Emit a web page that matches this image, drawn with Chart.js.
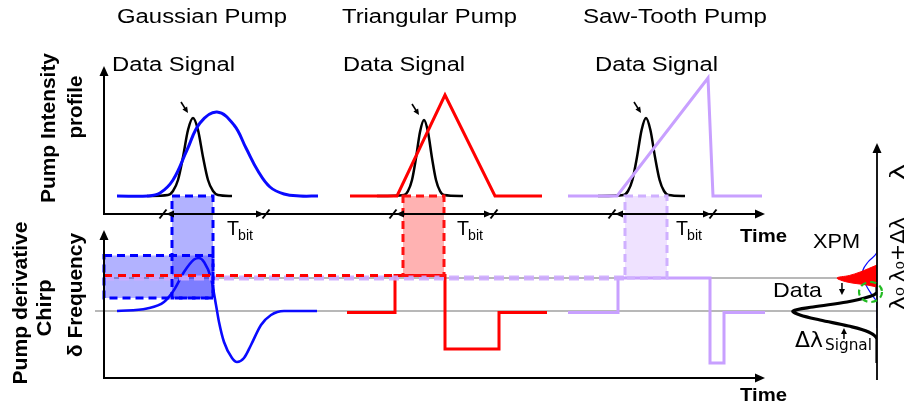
<!DOCTYPE html>
<html>
<head>
<meta charset="utf-8">
<title>Pump shapes, derivative chirp and XPM</title>
<script src="https://cdn.jsdelivr.net/npm/chart.js@4.4.1/dist/chart.umd.min.js"></script>
<style>
html,body{margin:0;padding:0;background:#ffffff;overflow:hidden;}
#c{display:block;}
</style>
</head>
<body>
<canvas id="c" width="904" height="407"></canvas>
<script>
// ================= DATA =================
// time in arbitrary units, intensity and chirp normalised
const pumpTitles = ['Gaussian Pump', 'Triangular Pump', 'Saw-Tooth Pump'];
const signalTitle = 'Data Signal';

const gaussPumpTime = [3.25, 11, 14, 17.25, 20.75, 24, 28.25, 32.5, 35.5, 38.5, 41.5, 45, 49, 53.5];
const gaussPumpIntensity = [0, 0, 0.03, 0.16, 0.46, 0.73, 0.84, 0.71, 0.48, 0.25, 0.09, 0.02, 0, 0];
const triPumpTime = [61.5, 73.25, 85.25, 97.75, 109.5];
const triPumpIntensity = [0, 0, 1.01, 0, 0];
const sawPumpTime = [116, 128.25, 151, 152.25, 164.5];
const sawPumpIntensity = [0, 0, 1.18, 0, 0];

const signal1Time = [10.75, 16, 17.25, 18.5, 19.75, 21, 22.25, 23.5, 24.75, 26, 27.25, 28.5, 32];
const signal1Intensity = [0, 0.01, 0.05, 0.16, 0.39, 0.66, 0.78, 0.66, 0.39, 0.16, 0.05, 0.01, 0];
const signal2Time = [68.25, 75, 76, 77, 78, 79, 80, 81, 82, 83, 84, 85, 89.75];
const signal2Intensity = [0, 0.01, 0.05, 0.16, 0.38, 0.64, 0.76, 0.64, 0.38, 0.16, 0.05, 0.01, 0];
const signal3Time = [123.5, 129.9, 131, 132.1, 133.25, 134.4, 135.5, 136.6, 137.75, 138.9, 140, 141.1, 145.25];
const signal3Intensity = [0, 0.01, 0.05, 0.16, 0.39, 0.66, 0.78, 0.66, 0.39, 0.16, 0.05, 0.01, 0];

const gaussChirpTime = [3.25, 10.75, 15, 17.5, 20, 22.5, 23.75, 25, 26.75, 28, 28.75, 30, 32, 33.25, 35, 36.75, 39.25, 41.75, 45, 53.25];
const gaussChirp = [0, 0.05, 0.18, 0.42, 0.78, 1.03, 1.06, 0.98, 0.66, 0.12, -0.22, -0.62, -0.94, -1.02, -0.94, -0.68, -0.28, -0.08, 0, 0];
const triChirpTime = [60.75, 72.75, 72.75, 85.25, 85.25, 98.75, 98.75, 110.75];
const triChirp = [-0.03, -0.03, 0.71, 0.71, -0.76, -0.76, -0.03, -0.03];
const sawChirpTime = [116, 128.5, 128.5, 151.5, 151.5, 155, 155, 165.25];
const sawChirp = [-0.03, -0.03, 0.66, 0.66, -1.04, -1.04, -0.03, -0.03];

// bit slot / chirp seen by the data pulse
const windowStart = [17, 74.75, 130.25];
const windowEnd = [27.25, 85, 140.75];
const windowChirp = [0.26, 0.71, 0.66];
const gaussChirpRange = [0.26, 1.11];
const bitStart = [14.75, 72.25, 127];
const bitEnd = [40.25, 97.25, 152];

// spectrum: wavelength shift (same units as chirp) and amplitude
const signalSpecShift = [0.88, 0.38, 0.28, 0.18, 0.08, 0, -0.08, -0.18, -0.3, -0.42, -0.56, -1.04];
const signalSpecAmp   = [0, 0, 0.107, 0.357, 0.762, 1, 0.917, 0.679, 0.34, 0.1, 0, 0];
const xpmSpecShift = [0.92, 0.78, 0.71, 0.66, 0.58, 0.52, 0.48];
const xpmSpecAmp   = [0, 0.2, 0.33, 0.476, 0.357, 0.119, 0];
const pumpSpecShift = [1.68, 1.18, 0.98, 0.82, 0.66, 0.48, 0.32, 0.16, -0.34];
const pumpSpecAmp   = [0, 0, 0.107, 0.167, 0.167, 0.119, 0.06, 0, 0];
const overlapMark = [0.077, 0.38];           // amplitude, shift
const lambdaLabels = ['λ₀', 'λ₀+Δλ', 'λ'];
const lambdaShifts = [0, 0.66];

// ================= STYLE =================
const FONT = "'Liberation Sans', Arial, sans-serif";
const BLUE = '#0a0aff', RED = '#ff0000', PURPLE = '#c8a0ff';
const windowFill = ['rgba(0,0,255,0.3)', 'rgba(255,0,0,0.3)', 'rgba(180,125,255,0.22)'];
const windowEdge = ['#0000ff', '#ff1010', '#cfb0ff'];

const pts = (xs, ys) => xs.map((v, i) => ({x: v, y: ys[i]}));
const specPts = (amp, shift) => amp.map((v, i) => ({x: v, y: shift[i]}));

function tLine(label, t, v, color, width, yAxis, smooth) {
  return {label, data: pts(t, v), borderColor: color, borderWidth: width,
    xAxisID: 'x', yAxisID: yAxis, pointRadius: 0, fill: false,
    tension: typeof smooth === 'number' ? smooth : 0,
    cubicInterpolationMode: smooth === 'monotone' ? 'monotone' : 'default'};
}
function sLine(label, amp, shift, color, width, fill) {
  return {label, data: specPts(amp, shift), borderColor: color, borderWidth: width,
    backgroundColor: color, indexAxis: 'y', xAxisID: 'xs', yAxisID: 'yC',
    pointRadius: 0, fill: fill ? 'origin' : false, tension: 0.35};
}

const datasets = [
  tLine(pumpTitles[0], gaussPumpTime, gaussPumpIntensity, BLUE, 3, 'yI', 0.4),
  tLine(pumpTitles[1], triPumpTime, triPumpIntensity, RED, 3, 'yI', 0),
  tLine(pumpTitles[2], sawPumpTime, sawPumpIntensity, PURPLE, 3, 'yI', 0),
  tLine(signalTitle + ' 1', signal1Time, signal1Intensity, '#000', 2.5, 'yI', 'monotone'),
  tLine(signalTitle + ' 2', signal2Time, signal2Intensity, '#000', 2.5, 'yI', 'monotone'),
  tLine(signalTitle + ' 3', signal3Time, signal3Intensity, '#000', 2.5, 'yI', 'monotone'),
  tLine('Gaussian chirp', gaussChirpTime, gaussChirp, BLUE, 2.6, 'yC', 'monotone'),
  tLine('Triangular chirp', triChirpTime, triChirp, RED, 3, 'yC', 0),
  tLine('Saw-tooth chirp', sawChirpTime, sawChirp, PURPLE, 3, 'yC', 0),
  sLine('XPM spectrum', xpmSpecAmp, xpmSpecShift, RED, 1, true),
  sLine('Signal spectrum', signalSpecAmp, signalSpecShift, '#000', 3.2, false),
  sLine('Pump spectrum', pumpSpecAmp, pumpSpecShift, BLUE, 1.2, false)
];

// ================= DRAW HELPERS =================
function seg(ctx, x0, y0, x1, y1, color, w, dash) {
  ctx.save(); ctx.strokeStyle = color; ctx.lineWidth = w; ctx.setLineDash(dash || []);
  ctx.beginPath(); ctx.moveTo(x0, y0); ctx.lineTo(x1, y1); ctx.stroke(); ctx.restore();
}
function head(ctx, x0, y0, x1, y1, len, half, color) {
  const a = Math.atan2(y1 - y0, x1 - x0);
  ctx.save(); ctx.fillStyle = color || '#000';
  ctx.beginPath(); ctx.moveTo(x1, y1);
  ctx.lineTo(x1 - len * Math.cos(a) + half * Math.sin(a), y1 - len * Math.sin(a) - half * Math.cos(a));
  ctx.lineTo(x1 - len * Math.cos(a) - half * Math.sin(a), y1 - len * Math.sin(a) + half * Math.cos(a));
  ctx.closePath(); ctx.fill(); ctx.restore();
}
function arrow(ctx, x0, y0, x1, y1, w, len, half) {
  const a = Math.atan2(y1 - y0, x1 - x0);
  seg(ctx, x0, y0, x1 - (len * 0.6) * Math.cos(a), y1 - (len * 0.6) * Math.sin(a), '#000', w);
  head(ctx, x0, y0, x1, y1, len, half);
}
function txt(ctx, s, x, y, font, w, rot, center) {
  ctx.save();
  ctx.font = font; ctx.fillStyle = '#000';
  ctx.textBaseline = 'alphabetic'; ctx.textAlign = 'left';
  const m = ctx.measureText(s).width;
  ctx.translate(x, y);
  if (rot) ctx.rotate(-Math.PI / 2);
  ctx.scale(w ? w / m : 1, 1);
  ctx.fillText(s, center ? -m / 2 : 0, 0);
  ctx.restore();
}

const diagram = {
  id: 'diagram',
  beforeDatasetsDraw(chart) {
    const {ctx, scales: {x, xs, yI, yC}} = chart;
    const right = xs.getPixelForValue(0);
    // reference lines (λ0 and λ0+Δλ)
    seg(ctx, x.getPixelForValue(-2.25), yC.getPixelForValue(0), right, yC.getPixelForValue(0), '#a0a0a0', 1.6);
    seg(ctx, x.getPixelForValue(0), yC.getPixelForValue(lambdaShifts[1]), right, yC.getPixelForValue(lambdaShifts[1]), '#a0a0a0', 1.4);
    // window fills
    ctx.save();
    windowStart.forEach((ws, i) => {
      const x0 = x.getPixelForValue(ws), x1 = x.getPixelForValue(windowEnd[i]);
      const y0 = yI.getPixelForValue(0), y1 = yC.getPixelForValue(windowChirp[i]);
      ctx.fillStyle = windowFill[i];
      ctx.fillRect(x0, y0, x1 - x0, y1 - y0);
    });
    const gx0 = x.getPixelForValue(0), gx1 = x.getPixelForValue(windowEnd[0]);
    const gy0 = yC.getPixelForValue(gaussChirpRange[1]), gy1 = yC.getPixelForValue(gaussChirpRange[0]);
    ctx.fillStyle = windowFill[0];
    ctx.fillRect(gx0, gy0, gx1 - gx0, gy1 - gy0);
    ctx.restore();
  },
  afterDatasetsDraw(chart) {
    const {ctx, scales: {x, xs, yI, yC}} = chart;
    const X = v => x.getPixelForValue(v);
    // level lines (purple under red)
    seg(ctx, X(0), yC.getPixelForValue(windowChirp[2]), X(windowStart[2]), yC.getPixelForValue(windowChirp[2]), 'rgba(205,170,255,0.9)', 5, [10, 5]);
    seg(ctx, X(0), yC.getPixelForValue(windowChirp[1]), X(windowStart[1]), yC.getPixelForValue(windowChirp[1]), RED, 3, [8, 6]);
    // window dashed borders
    windowStart.forEach((ws, i) => {
      const x0 = X(ws), x1 = X(windowEnd[i]);
      const y0 = yI.getPixelForValue(0), y1 = yC.getPixelForValue(windowChirp[i]);
      ctx.save(); ctx.strokeStyle = windowEdge[i]; ctx.lineWidth = 3; ctx.setLineDash([8, 5]);
      ctx.strokeRect(x0, y0, x1 - x0, y1 - y0); ctx.restore();
    });
    ctx.save(); ctx.strokeStyle = windowEdge[0]; ctx.lineWidth = 3; ctx.setLineDash([8, 5]);
    const gy0 = yC.getPixelForValue(gaussChirpRange[1]), gy1 = yC.getPixelForValue(gaussChirpRange[0]);
    ctx.strokeRect(X(0), gy0, X(windowEnd[0]) - X(0), gy1 - gy0); ctx.restore();

    // axes
    const topAxisY = yI.getPixelForValue(-0.18), topTip = yI.getPixelForValue(1.30);
    const botAxisY = yC.getPixelForValue(-1.34), botTip = yC.getPixelForValue(1.62);
    const xEnd = X(165.25);
    seg(ctx, X(0), topAxisY, xEnd - 5, topAxisY, '#000', 2); head(ctx, X(0), topAxisY, xEnd, topAxisY, 10, 4.5);
    seg(ctx, X(0), topAxisY + 1, X(0), topTip + 5, '#000', 2); head(ctx, X(0), topAxisY, X(0), topTip, 10, 4.5);
    seg(ctx, X(0), botAxisY, xEnd - 5, botAxisY, '#000', 2); head(ctx, X(0), botAxisY, xEnd, botAxisY, 10, 4.5);
    seg(ctx, X(0), botAxisY + 1, X(0), botTip + 5, '#000', 2); head(ctx, X(0), botAxisY, X(0), botTip, 10, 4.5);
    const sx = xs.getPixelForValue(0), sTop = yC.getPixelForValue(3.36), sBot = yC.getPixelForValue(-1.38);
    seg(ctx, sx, sBot, sx, sTop + 5, '#000', 1.8); head(ctx, sx, sBot, sx, sTop, 10, 4.5);

    // bit slots
    bitStart.forEach((b, i) => {
      const a = X(b), e = X(bitEnd[i]);
      seg(ctx, a + 6, topAxisY, e - 6, topAxisY, '#000', 2);
      head(ctx, e, topAxisY, a + 3, topAxisY, 8, 3.5);
      head(ctx, a, topAxisY, e - 1, topAxisY, 8, 3.5);
      seg(ctx, a - 3.5, topAxisY + 4.5, a + 3.5, topAxisY - 4.5, '#000', 2);
      seg(ctx, e - 2.5, topAxisY + 4.5, e + 4.5, topAxisY - 4.5, '#000', 2);
      txt(ctx, 'T', a + 64, 235, '20px ' + FONT, 12);
      txt(ctx, 'bit', a + 75, 240, '14px ' + FONT, 15);
    });

    // pointer arrows to data-signal peaks
    [[signal1Time, signal1Intensity], [signal2Time, signal2Intensity], [signal3Time, signal3Intensity]].forEach(([t, v]) => {
      const k = v.indexOf(Math.max(...v));
      const px = X(t[k]), py = yI.getPixelForValue(v[k]);
      arrow(ctx, px - 12, py - 16, px - 5, py - 5, 1.6, 6, 2.8);
    });

    // spectrum annotations
    const cx = xs.getPixelForValue(overlapMark[0]), cy = yC.getPixelForValue(overlapMark[1]);
    ctx.save(); ctx.strokeStyle = '#22bb22'; ctx.lineWidth = 2.2; ctx.setLineDash([6, 4]);
    ctx.beginPath(); ctx.ellipse(cx, cy, 11.5, 10, 0, 0, Math.PI * 2); ctx.stroke(); ctx.restore();
    const ax = xs.getPixelForValue(0.417);
    arrow(ctx, ax, yC.getPixelForValue(0.56), ax, yC.getPixelForValue(0.32), 1.5, 6, 3);
    arrow(ctx, ax + 2, yC.getPixelForValue(-0.56), ax + 2, yC.getPixelForValue(-0.34), 1.5, 6, 3);

    // texts
    txt(ctx, pumpTitles[0], 117, 23, '20px ' + FONT, 170);
    txt(ctx, pumpTitles[1], 342, 23, '20px ' + FONT, 175);
    txt(ctx, pumpTitles[2], 583, 23, '20px ' + FONT, 184);
    txt(ctx, signalTitle, 112, 71, '20px ' + FONT, 123);
    txt(ctx, signalTitle, 343, 71, '20px ' + FONT, 122);
    txt(ctx, signalTitle, 595, 71, '20px ' + FONT, 123);
    txt(ctx, 'Time', 740, 242, 'bold 19px ' + FONT, 47);
    txt(ctx, 'Time', 740, 401, 'bold 19px ' + FONT, 47);
    txt(ctx, 'XPM', 813, 248, '21px ' + FONT, 47);
    txt(ctx, 'Data', 773, 297, '21px ' + FONT, 49);
    txt(ctx, 'Δλ', 795, 347, "21px 'DejaVu Sans', sans-serif", 28);
    txt(ctx, 'Signal', 825, 350, "16px 'DejaVu Sans', sans-serif", 47);
    txt(ctx, 'Pump Intensity', 55, 128, 'bold 21px ' + FONT, 150, true, true);
    txt(ctx, 'profile', 82, 107, 'bold 21px ' + FONT, 63, true, true);
    txt(ctx, 'Pump derivative', 27, 303, 'bold 21px ' + FONT, 163, true, true);
    txt(ctx, 'Chirp', 51, 308, 'bold 21px ' + FONT, 57, true, true);
    txt(ctx, 'δ Frequency', 82, 295, 'bold 21px ' + FONT, 124, true, true);
    // wavelength labels on the spectrum axis
    const lf = "20px 'DejaVu Sans', sans-serif";
    txt(ctx, lambdaLabels[0], 904, yC.getPixelForValue(lambdaShifts[0]) - 1, lf, 23, true, false);
    txt(ctx, lambdaLabels[1], 904, yC.getPixelForValue(lambdaShifts[1]) + 4, lf, 65, true, false);
    txt(ctx, lambdaLabels[2], 904, 180, lf, 16, true, false);
  }
};

new Chart(document.getElementById('c'), {
  type: 'line',
  data: {datasets},
  options: {
    responsive: false,
    animation: false,
    devicePixelRatio: 1,
    events: [],
    layout: {padding: {left: 104, right: 27, top: 58, bottom: 17}},
    plugins: {legend: {display: false}, tooltip: {enabled: false}, title: {display: false}},
    scales: {
      x:  {type: 'linear', axis: 'x', min: 0, max: 193.25, display: false},
      xs: {type: 'linear', axis: 'x', min: 0, max: 9.2024, reverse: true, display: false},
      yI: {type: 'linear', axis: 'y', min: -1.94, max: 1.38, display: false},
      yC: {type: 'linear', axis: 'y', min: -1.58, max: 5.06, display: false}
    }
  },
  plugins: [diagram]
});
</script>
</body>
</html>
